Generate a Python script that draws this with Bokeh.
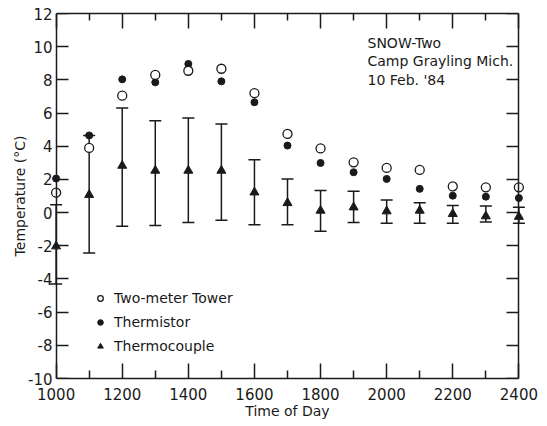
from bokeh.plotting import figure
from bokeh.models import (LinearAxis, Whisker, ColumnDataSource, Legend, LegendItem,
                          Label, FixedTicker, TeeHead, Range1d)
from bokeh.embed import file_html
from bokeh.resources import INLINE

hours = [1000, 1100, 1200, 1300, 1400, 1500, 1600, 1700, 1800, 1900, 2000, 2100, 2200, 2300, 2400]
tower = [1.2, 3.9, 7.05, 8.3, 8.55, 8.67, 7.2, 4.74, 3.87, 3.03, 2.69, 2.57, 1.58, 1.52, 1.52]
thermistor = [2.05, 4.65, 8.03, 7.85, 8.96, 7.91, 6.65, 4.04, 2.99, 2.43, 2.03, 1.43, 1.02, 0.96, 0.88]
thermocouple = [-2.03, 1.07, 2.83, 2.53, 2.53, 2.53, 1.22, 0.58, 0.12, 0.32, 0.08, 0.12, -0.08, -0.22, -0.25]
tc_upper = [0.48, 4.65, 6.3, 5.54, 5.7, 5.34, 3.19, 2.03, 1.33, 1.28, 0.76, 0.6, 0.42, 0.4, 0.32]
tc_lower = [-4.3, -2.43, -0.82, -0.78, -0.6, -0.46, -0.74, -0.74, -1.12, -0.6, -0.64, -0.64, -0.64, -0.56, -0.64]

x_major = [1000, 1200, 1400, 1600, 1800, 2000, 2200, 2400]
x_minor = [1100, 1300, 1500, 1700, 1900, 2100, 2300]
y_major = [-10, -8, -6, -4, -2, 0, 2, 4, 6, 8, 10, 12]
y_labels = {-10: "-10", -8: "-8", -6: "-6", -4: "-4", -2: "-2", 0: "0",
            2: "2", 4: "4", 6: "6", 8: "8", 10: "10", 12: "12"}

title_lines = ["SNOW-Two", "Camp Grayling Mich.", "10 Feb. '84"]

INK = "#1a1a1a"
FONT = "DejaVu Sans"
PAD = 20  # small data margin so edge markers are not clipped

x0, x1 = x_major[0], x_major[-1]
p = figure(width=547, height=426, output_backend="svg", toolbar_location=None,
           x_range=Range1d(x0 - PAD, x1 + PAD), y_range=Range1d(y_major[0], y_major[-1]),
           min_border_left=49, min_border_right=22, min_border_top=13, min_border_bottom=48,
           x_axis_location=None, y_axis_location=None)
p.xgrid.visible = False
p.ygrid.visible = False
p.outline_line_color = None
p.background_fill_color = "white"
p.border_fill_color = "white"


def style_axis(ax, ticks, minor, labels):
    ax.ticker = FixedTicker(ticks=ticks, minor_ticks=minor)
    ax.axis_line_color = INK
    ax.axis_line_width = 1.5
    ax.major_tick_line_color = INK
    ax.minor_tick_line_color = INK
    ax.major_tick_line_width = 1.5
    ax.minor_tick_line_width = 1.5
    ax.major_tick_out = 0
    ax.minor_tick_out = 0
    ax.major_label_text_font = FONT
    ax.major_label_text_color = INK
    if not labels:
        ax.major_label_text_font_size = "0px"
        ax.major_label_text_color = None
        ax.major_label_standoff = 0


xb = LinearAxis(bounds=(x0, x1))
style_axis(xb, x_major, x_minor, True)
xb.major_tick_in = 15
xb.minor_tick_in = 8
xb.major_label_text_font_size = "15px"
xb.major_label_standoff = 9
xb.axis_label = "Time of Day"
xb.axis_label_text_font = FONT
xb.axis_label_text_font_size = "14px"
xb.axis_label_text_font_style = "normal"
xb.axis_label_text_color = INK
xb.axis_label_standoff = 0
p.add_layout(xb, "below")

xt = LinearAxis(bounds=(x0, x1))
style_axis(xt, x_major, x_minor, False)
xt.major_tick_in = 15
xt.minor_tick_in = 7
p.add_layout(xt, "above")

# left: line + ticks at x = 1000 (inside the small padding)
yl_line = LinearAxis(fixed_location=x0)
style_axis(yl_line, y_major, [], False)
yl_line.major_tick_in = 12
yl_line.minor_tick_in = 0
p.add_layout(yl_line, "left")

# left: tick labels + axis title at the frame edge
yl = LinearAxis()
style_axis(yl, y_major, [], True)
yl.axis_line_color = None
yl.major_tick_line_color = None
yl.minor_tick_line_color = None
yl.major_tick_in = 0
yl.minor_tick_in = 0
yl.major_label_overrides = y_labels
yl.major_label_text_font_size = "15px"
yl.major_label_standoff = -3
yl.axis_label = "Temperature (\u00b0C)"
yl.axis_label_text_font = FONT
yl.axis_label_text_font_size = "14px"
yl.axis_label_text_font_style = "normal"
yl.axis_label_text_color = INK
yl.axis_label_standoff = -3
p.add_layout(yl, "left")

yr = LinearAxis(fixed_location=x1)
style_axis(yr, y_major, [], False)
yr.major_tick_in = 12
yr.minor_tick_in = 0
p.add_layout(yr, "right")

src = ColumnDataSource(dict(x=hours, tower=tower, thermistor=thermistor,
                            tc=thermocouple, upper=tc_upper, lower=tc_lower))

wh = Whisker(base="x", upper="upper", lower="lower", source=src,
             line_color=INK, line_width=1.5,
             upper_head=TeeHead(size=12, line_color=INK, line_width=1.5),
             lower_head=TeeHead(size=12, line_color=INK, line_width=1.5))
p.add_layout(wh)

r_tc = p.scatter("x", "tc", source=src, marker="triangle", size=9,
                 fill_color=INK, line_color=INK)
r_th = p.scatter("x", "thermistor", source=src, marker="circle", size=7,
                 fill_color=INK, line_color=INK)
r_tw = p.scatter("x", "tower", source=src, marker="circle", size=9,
                 fill_color="white", line_color=INK, line_width=1.3)

legend = Legend(items=[LegendItem(label="Two-meter Tower", renderers=[r_tw]),
                       LegendItem(label="Thermistor", renderers=[r_th]),
                       LegendItem(label="Thermocouple", renderers=[r_tc])],
                location=(44, 24), glyph_width=14, glyph_height=14,
                label_text_font=FONT, label_text_font_size="14px",
                label_text_color=INK, label_standoff=7, spacing=8,
                padding=0, margin=0, border_line_color=None,
                background_fill_alpha=0)
p.add_layout(legend, "center")

for i, line in enumerate(title_lines):
    p.add_layout(Label(x=318, y=336 - i * 18.5, x_units="screen", y_units="screen",
                       text=line, text_font=FONT, text_font_size="14px",
                       text_color=INK, text_baseline="middle"))

open("out.html", "w").write(file_html(p, INLINE))
